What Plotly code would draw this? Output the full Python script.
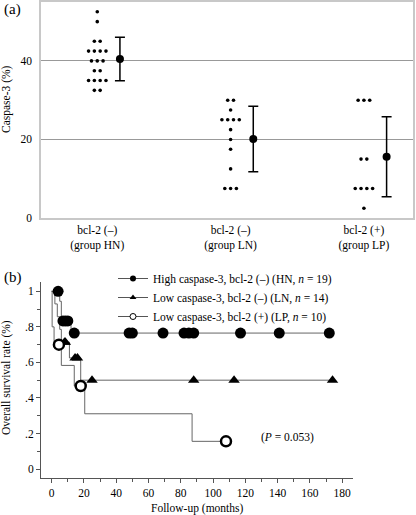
import plotly.graph_objects as go
from collections import Counter

# ---------------- data: panel (a) ----------------
group_pos = [0, 1, 2]
tick_labels = ["bcl-2 (–)<br>(group HN)", "bcl-2 (–)<br>(group LN)", "bcl-2 (+)<br>(group LP)"]
hn_vals = [52.5, 50, 45, 45, 42.5, 42.5, 42.5, 42.5, 40, 40, 40, 37.5, 37.5,
           35, 35, 35, 35, 32.5, 32.5]
ln_vals = [30, 30, 27.5, 25, 25, 25, 25, 22.5, 20, 17.5, 12.5, 7.5, 7.5, 7.5]
lp_vals = [30, 30, 30, 15, 15, 7.5, 7.5, 7.5, 7.5, 2.5]
means = [40.5, 20.1, 15.6]
sds = [5.55, 8.35, 10.2]
y_ticks_a = [0, 20, 40]

# ---------------- data: panel (b) ----------------
hn_t = [0, 5, 6, 12, 172]
hn_s = [1, 0.944, 0.833, 0.765, 0.765]
hn_cens_t = [4, 7, 8.5, 10, 14, 48, 50, 69, 82, 85, 88, 117, 141, 172]
hn_cens_s = [1, 0.833, 0.833, 0.833, 0.765, 0.765, 0.765, 0.765, 0.765, 0.765, 0.765, 0.765, 0.765, 0.765]

ln_t = [0, 2, 3.5, 5, 6, 11, 18, 174]
ln_s = [1, 0.929, 0.857, 0.786, 0.714, 0.625, 0.5, 0.5]
ln_cens_t = [8, 8.5, 14.5, 16, 25, 88, 113, 174]
ln_cens_s = [0.714, 0.714, 0.625, 0.625, 0.5, 0.5, 0.5, 0.5]

lp_t = [0, 0.3, 1.5, 6, 14, 20.5, 87, 108]
lp_s = [1, 0.8, 0.7, 0.583, 0.467, 0.311, 0.156, 0.156]
lp_cens_t = [4.5, 18, 108]
lp_cens_s = [0.7, 0.467, 0.156]

y_ticks_b = [0, 0.2, 0.4, 0.6, 0.8, 1]
y_ticktext_b = ["0", ".2", ".4", ".6", ".8", "1"]

legend_names = ["High caspase-3, bcl-2 (–) (HN, <i>n</i> = 19)",
                "Low caspase-3, bcl-2 (–) (LN, <i>n</i> = 14)",
                "Low caspase-3, bcl-2 (+) (LP, <i>n</i> = 10)"]

FONT = "Liberation Serif, Times New Roman, serif"
FS = 11.5
W, H = 416, 515
TF = dict(family=FONT, size=FS, color="black")

def px_x(p):
    return p / W

def px_y(p):
    return 1 - p / H

def swarm(vals, center, step=0.0435):
    cnt = Counter(vals)
    seen = Counter()
    xs = []
    for v in vals:
        k = cnt[v]
        i = seen[v]
        seen[v] += 1
        xs.append(center + (i - (k - 1) / 2) * step)
    return xs

fig = go.Figure()

# panel (a) dots
for vals, c in zip([hn_vals, ln_vals, lp_vals], group_pos):
    fig.add_trace(go.Scatter(
        x=swarm(vals, c), y=vals, mode="markers",
        marker=dict(symbol="circle", size=3.6, color="black"),
        showlegend=False, xaxis="x", yaxis="y", hoverinfo="skip"))

# mean +/- sd
fig.add_trace(go.Scatter(
    x=[c + 0.17 for c in group_pos], y=means, mode="markers",
    marker=dict(symbol="circle", size=8, color="black"),
    error_y=dict(type="data", array=sds, color="black", thickness=1.5, width=5),
    showlegend=False, xaxis="x", yaxis="y"))

# panel (b) KM curves
line_col = "#666666"
for t, s in [(hn_t, hn_s), (ln_t, ln_s), (lp_t, lp_s)]:
    fig.add_trace(go.Scatter(
        x=t, y=s, mode="lines", line=dict(color=line_col, width=1, shape="hv"),
        showlegend=False, xaxis="x2", yaxis="y2"))

fig.add_trace(go.Scatter(
    x=hn_cens_t, y=hn_cens_s, mode="markers",
    marker=dict(symbol="circle", size=11, color="black"),
    showlegend=False, xaxis="x2", yaxis="y2"))
fig.add_trace(go.Scatter(
    x=ln_cens_t, y=ln_cens_s, mode="markers",
    marker=dict(symbol="triangle-up", size=10, color="black"),
    showlegend=False, xaxis="x2", yaxis="y2"))
fig.add_trace(go.Scatter(
    x=lp_cens_t, y=lp_cens_s, mode="markers",
    marker=dict(symbol="circle", size=10, color="white", line=dict(color="black", width=2.5)),
    showlegend=False, xaxis="x2", yaxis="y2"))

# legend entries
leg_markers = [dict(symbol="circle", size=6, color="black"),
               dict(symbol="triangle-up", size=6, color="black"),
               dict(symbol="circle", size=6, color="white", line=dict(color="black", width=1))]
for name, mk in zip(legend_names, leg_markers):
    fig.add_trace(go.Scatter(
        x=[None], y=[None], mode="lines+markers", name=name,
        marker=mk, line=dict(color="#555", width=1),
        xaxis="x2", yaxis="y2"))

fig.update_layout(
    width=W, height=H,
    margin=dict(l=0, r=0, t=0, b=0, pad=0, autoexpand=False),
    paper_bgcolor="white", plot_bgcolor="white",
    font=TF,
    xaxis=dict(domain=[px_x(41), px_x(413)], range=[-0.422, 2.368], automargin=False,
               tickvals=group_pos, ticktext=tick_labels, ticks="", tickfont=TF,
               showgrid=False, zeroline=False,
               showline=True, linecolor="#c8c8c8", linewidth=2, mirror=True),
    yaxis=dict(domain=[px_y(218), px_y(2)], range=[0, 55], automargin=False,
               tickvals=y_ticks_a, ticks="", ticklabelstandoff=5, tickfont=TF,
               showgrid=True, gridcolor="#999999", gridwidth=1.4, zeroline=False,
               showline=True, linecolor="#c8c8c8", linewidth=1.5, mirror=True),
    xaxis2=dict(domain=[px_x(41), px_x(352.7)], range=[-6.6, 186.5], anchor="y2", automargin=False,
                tick0=0, dtick=20, ticks="outside", ticklen=4, tickcolor="#555", tickfont=TF,
                minor=dict(dtick=10, ticks="outside", ticklen=3, tickcolor="#555", showgrid=False),
                showgrid=False, zeroline=False,
                showline=True, linecolor="#555", linewidth=1),
    yaxis2=dict(domain=[px_y(478.3), px_y(281.7)], range=[-0.052, 1.054], anchor="x2", automargin=False,
                tickvals=y_ticks_b, ticktext=y_ticktext_b, tickfont=TF,
                ticks="outside", ticklen=4, tickcolor="#555",
                minor=dict(dtick=0.1, ticks="outside", ticklen=3, tickcolor="#555", showgrid=False),
                showgrid=False, zeroline=False,
                showline=True, linecolor="#555", linewidth=1),
    legend=dict(x=px_x(113), y=px_y(264), xanchor="left", yanchor="top",
                bgcolor="rgba(0,0,0,0)", font=TF,
                itemwidth=30, tracegroupgap=0),
    annotations=[
        dict(text="(a)", x=px_x(2), y=px_y(9), xref="paper", yref="paper",
             xanchor="left", yanchor="middle", showarrow=False, font=dict(family=FONT, size=15)),
        dict(text="(b)", x=px_x(2), y=px_y(277), xref="paper", yref="paper",
             xanchor="left", yanchor="middle", showarrow=False, font=dict(family=FONT, size=15)),
        dict(text="Caspase-3 (%)", x=px_x(6), y=px_y(99), xref="paper", yref="paper",
             textangle=-90, xanchor="center", yanchor="middle", showarrow=False, font=TF),
        dict(text="Overall survival rate (%)", x=px_x(6), y=px_y(378), xref="paper", yref="paper",
             textangle=-90, xanchor="center", yanchor="middle", showarrow=False, font=TF),
        dict(text="Follow-up (months)", x=px_x(197), y=px_y(508), xref="paper", yref="paper",
             xanchor="center", yanchor="middle", showarrow=False, font=TF),
        dict(text="(<i>P</i> = 0.053)", x=146, y=0.18, xref="x2", yref="y2",
             xanchor="center", yanchor="middle", showarrow=False, font=TF),
    ],
)

fig.write_html("out.html",
               config={"displayModeBar": False},
               post_script="document.body.style.margin='0';document.body.style.padding='0';")
